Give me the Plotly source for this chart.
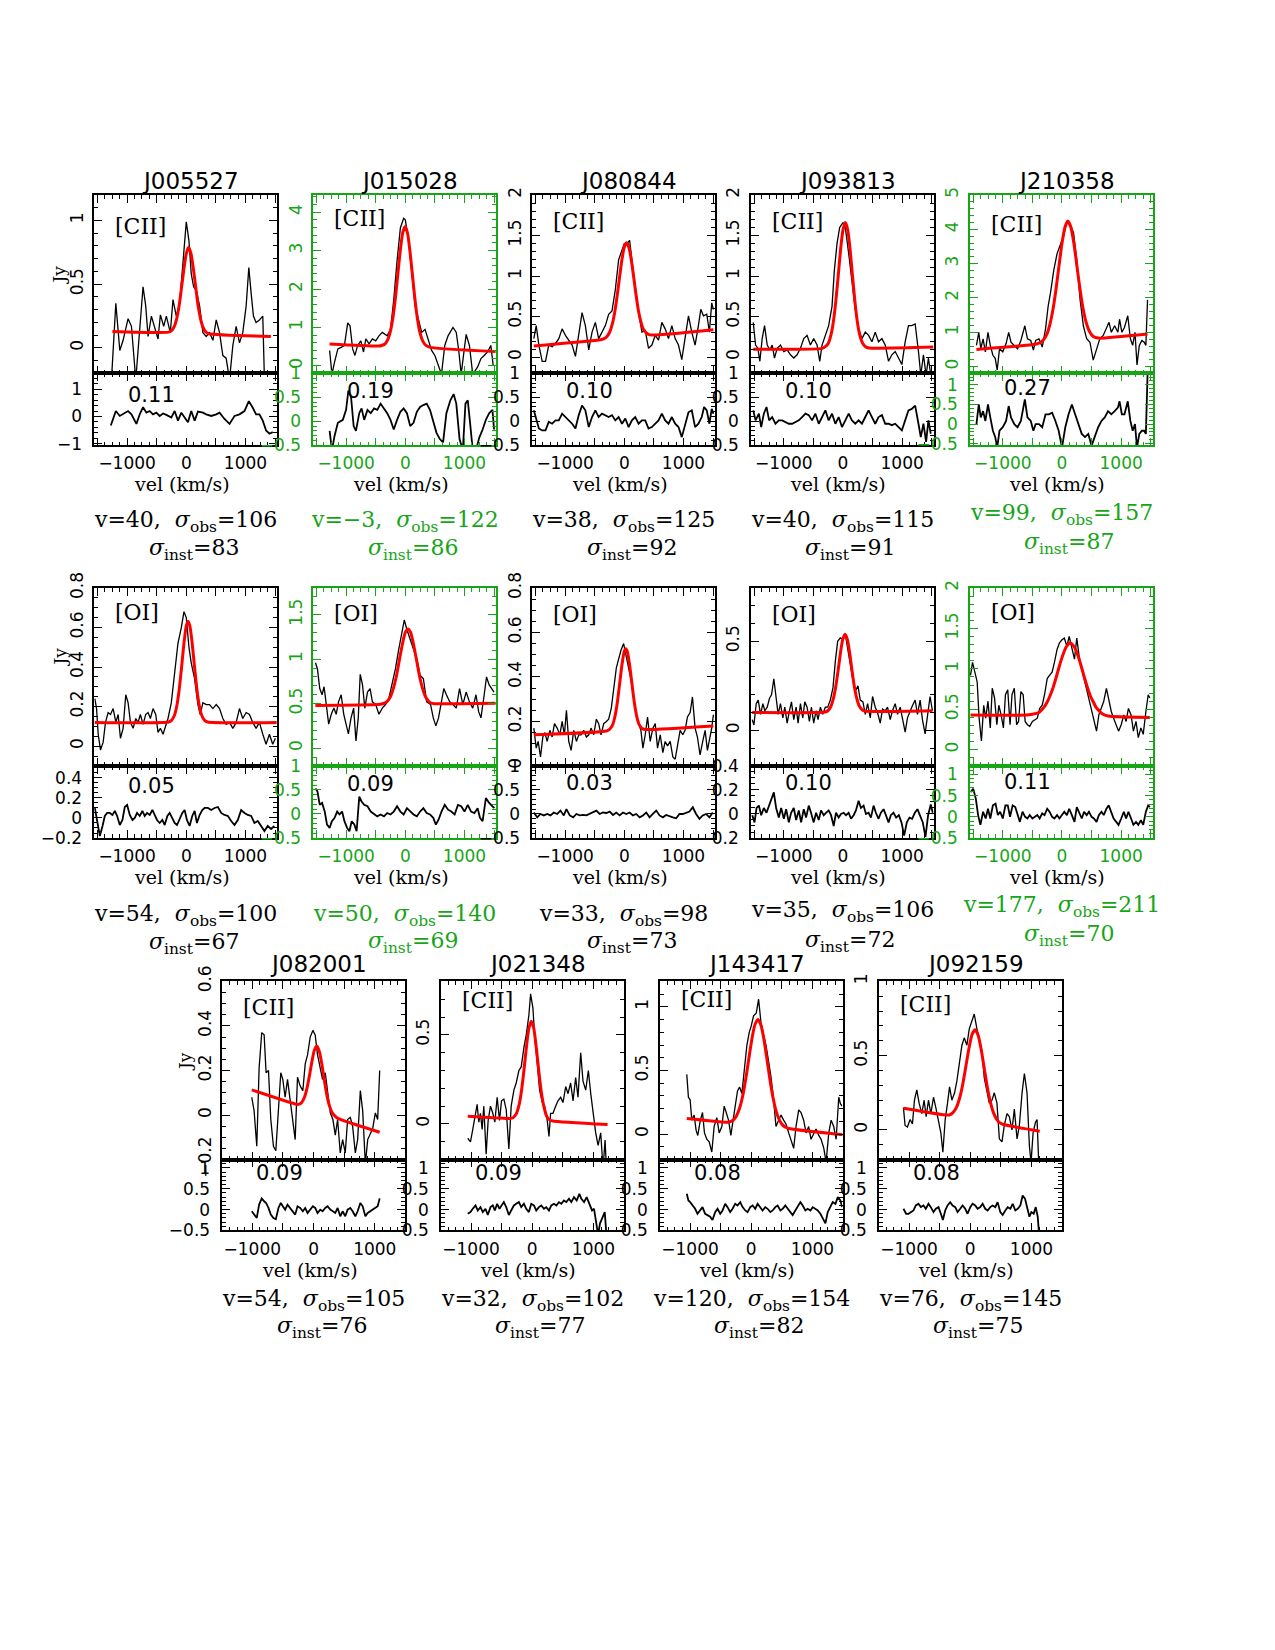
import sys
import plotly.graph_objects as go

# ----------------------------------------------------------------- data
# Panel 1  J005527 [CII]
P1_VEL = [-1265,-1191,-1124,-1068,-984,-927,-854,-787,-731,-686,-646,-590,-534,-478,-438,-382,-337,-270,-225,-169,-112,-56,0,45,84,124,169,225,281,337,393,450,506,562,618,674,731,787,843,899,955,1012,1057,1096,1135,1180,1236,1293,1321,1349]
P1_FLUX = [-0.25,0.35,-0.02,0.06,0.23,0.17,-0.25,0.12,0.48,0.33,0.09,0.25,0.15,0.07,0.26,0.17,0.25,0.12,0.38,0.25,0.35,0.68,0.99,0.84,0.58,0.48,0.45,0.33,0.12,0.09,0.12,0.06,0.22,0.12,-0.06,-0.08,-0.25,0.02,0.17,0.04,0.12,0.33,0.63,0.43,0.25,0.2,0.22,0.25,-0.25,-0.25]
P1_FIT_VEL = [-1250,-300,-250,-200,-160,-120,-80,-40,0,40,80,120,160,200,240,280,330,380,1430]
P1_FIT = [0.13,0.124,0.136,0.172,0.234,0.334,0.475,0.62,0.74,0.79,0.74,0.62,0.475,0.33,0.23,0.165,0.125,0.112,0.09]
P1_RES_VEL = [-1276,-1191,-1124,-1068,-984,-927,-843,-787,-731,-674,-618,-562,-506,-450,-393,-337,-253,-197,-141,-84,-28,28,84,141,197,281,337,422,506,562,646,731,815,899,984,1057,1124,1180,1236,1293,1349,1405,1461]
P1_RES = [-0.33,0.2,0.02,0.08,0.2,0.08,-0.27,0.08,0.34,0.14,0.2,0.08,0.14,0.02,0.11,0.06,-0.04,0.2,-0.15,0.14,-0.04,-0.21,0.2,-0.15,0.18,0.14,0.08,0.02,0.08,0.14,-0.09,-0.27,0.02,0.08,0.2,0.56,0.32,0.08,0.08,-0.15,-0.51,-0.63,-0.57]

# Panel 2  J015028 [CII]
P2_VEL = [-1279,-1240,-1195,-1140,-1084,-1029,-973,-934,-890,-851,-806,-751,-706,-667,-612,-556,-500,-445,-389,-350,-306,-250,-195,-139,-83,-28,0,56,111,167,222,278,334,389,445,500,556,612,667,723,806,862,906,945,984,1029,1084,1140,1223,1279,1334,1390,1446,1485]
P2_FLUX = [0.4,-0.22,0.1,0.44,0.48,0.53,1.12,1.04,0.44,0.27,0.53,0.65,0.36,0.7,0.57,0.7,0.65,0.78,0.87,0.82,0.78,0.95,1.72,2.74,3.59,3.84,3.8,3.25,2.4,1.55,1.21,0.87,0.95,0.7,0.4,0.27,0.02,-0.22,0.53,0.78,1.0,0.87,0.36,-0.22,0.27,0.82,0.53,-0.22,-0.03,0.19,0.27,0.36,0.53,0.02]
P2_FIT_VEL = [-1280,-450,-400,-350,-300,-250,-200,-160,-120,-80,-40,0,40,80,120,160,200,250,300,350,420,1530]
P2_FIT = [0.57,0.515,0.53,0.56,0.67,0.91,1.35,1.87,2.48,3.06,3.49,3.63,3.44,2.97,2.38,1.78,1.28,0.85,0.63,0.53,0.48,0.37]
P2_RES_VEL = [-1279,-1240,-1195,-1140,-1056,-1001,-962,-917,-873,-834,-778,-739,-695,-639,-584,-528,-473,-417,-361,-306,-250,-195,-139,-83,-28,28,83,139,195,250,306,361,417,473,528,584,639,695,762,817,862,917,973,1017,1056,1095,1140,1195,1251,1307,1362,1418,1473,1501]
P2_RES = [-0.2,-0.6,-0.3,-0.03,0.03,0.24,0.64,0.51,-0.1,-0.2,0.17,0.27,0.03,0.24,0.17,0.27,0.24,0.37,0.27,0.17,0.03,-0.17,0.03,0.2,0.27,0.17,-0.1,-0.03,0.2,0.3,0.34,0.37,0.24,-0.03,-0.24,-0.37,-0.44,0.17,0.44,0.57,0.37,-0.37,-0.6,0.37,0.44,-0.03,-0.6,-0.6,-0.34,-0.17,0.03,0.17,0.24,-0.17]

# Panel 3  J080844 [CII]
P3_VEL = [-1529,-1489,-1444,-1388,-1332,-1276,-1220,-1163,-1107,-1051,-995,-939,-882,-826,-770,-714,-658,-601,-545,-489,-433,-377,-320,-264,-208,-152,-96,-39,0,45,90,129,185,242,298,354,410,466,523,579,635,691,747,804,860,916,972,1028,1085,1141,1197,1253,1293,1338,1394,1439,1478,1506]
P3_FLUX = [0.23,0.39,0.15,-0.05,-0.05,0.15,0.13,0.17,0.23,0.35,0.27,0.21,0.15,0.01,0.31,0.55,0.39,0.09,0.31,0.43,0.23,0.31,0.39,0.53,0.57,0.83,1.2,1.32,1.4,1.4,1.44,1.2,0.87,0.55,0.31,0.33,0.11,0.15,0.27,0.21,0.43,0.35,0.23,0.39,0.23,0.15,-0.03,0.23,0.51,0.31,0.15,0.39,0.59,0.51,0.53,0.31,0.67,0.59]
P3_FIT_VEL = [-1530,-400,-350,-300,-250,-200,-160,-120,-80,-40,0,40,80,120,160,200,240,280,320,370,430,1506]
P3_FIT = [0.14,0.216,0.226,0.25,0.305,0.417,0.56,0.76,0.985,1.2,1.36,1.41,1.35,1.19,0.98,0.76,0.57,0.44,0.35,0.30,0.276,0.34]
P3_RES_VEL = [-1529,-1489,-1444,-1388,-1332,-1276,-1220,-1163,-1107,-1051,-995,-939,-882,-826,-770,-714,-658,-601,-545,-489,-433,-377,-320,-264,-208,-152,-96,-39,17,73,129,185,242,298,354,410,466,523,579,635,691,747,804,860,916,972,1028,1085,1141,1197,1253,1309,1349,1394,1439,1478,1506]
P3_RES = [0.23,0.02,-0.15,-0.19,-0.19,-0.01,-0.05,0.02,0.02,0.16,0.09,0.02,-0.05,-0.15,0.13,0.33,0.23,-0.12,0.09,0.23,0.09,0.16,0.13,0.09,0.13,0.02,0.09,-0.05,0.06,-0.12,0.02,0.09,-0.05,0.02,0.02,-0.15,-0.12,-0.05,0.02,0.16,0.02,-0.05,0.09,-0.05,-0.12,-0.33,-0.05,0.19,0.23,-0.12,-0.05,0.09,0.3,0.23,-0.05,0.26,0.16]

# Panel 4  J093813 [CII]
P4_VEL = [-1517,-1478,-1439,-1405,-1366,-1326,-1281,-1236,-1197,-1158,-1113,-1057,-1000,-944,-888,-832,-776,-719,-663,-607,-551,-495,-438,-393,-354,-298,-242,-185,-146,-101,-56,0,39,96,152,208,264,320,377,433,489,545,601,658,714,770,826,882,939,995,1051,1107,1163,1220,1276,1315,1360,1405,1444,1484]
P4_FLUX = [0.43,0.15,0.11,-0.05,0.23,0.39,0.15,0.09,0.15,-0.01,0.11,0.15,0.07,0.09,0.03,-0.01,0.03,0.11,0.23,0.27,0.15,0.23,0.15,-0.05,0.15,0.27,0.39,0.63,1.07,1.4,1.6,1.66,1.6,1.28,0.91,0.59,0.35,0.23,0.31,0.27,0.19,0.31,0.19,0.23,0.15,-0.05,0.03,0.07,-0.01,-0.09,0.19,0.39,0.39,0.41,0.07,-0.22,0.03,-0.22,-0.01,-0.22]
P4_FIT_VEL = [-1517,-350,-300,-250,-200,-160,-120,-80,-40,0,40,80,120,160,200,240,280,330,380,440,1530]
P4_FIT = [0.10,0.11,0.13,0.17,0.285,0.45,0.70,1.01,1.33,1.57,1.66,1.57,1.33,1.01,0.70,0.45,0.285,0.176,0.13,0.115,0.125]
P4_RES_VEL = [-1517,-1478,-1422,-1383,-1338,-1293,-1248,-1197,-1141,-1085,-1028,-972,-916,-860,-804,-747,-691,-635,-579,-523,-466,-410,-354,-298,-242,-185,-129,-73,-17,39,96,152,208,264,320,377,433,489,545,601,658,714,770,826,882,939,995,1051,1107,1163,1220,1276,1315,1360,1405,1444,1484]
P4_RES = [0.23,0.02,0.16,-0.12,0.16,0.3,0.02,0.09,-0.05,0.02,0.02,-0.01,-0.05,-0.05,-0.01,0.02,0.09,0.16,0.13,0.02,0.16,-0.05,0.09,0.23,0.02,0.16,-0.05,0.09,-0.12,0.02,0.16,0.02,-0.05,0.02,-0.05,0.09,0.23,0.09,-0.05,0.09,0.13,-0.05,-0.05,-0.08,-0.05,-0.12,-0.19,0.02,0.23,0.26,0.33,-0.05,-0.33,-0.05,-0.43,0.02,-0.26]

# Panel 5  J210358 [CII]
P5_VEL = [-1446,-1407,-1373,-1334,-1295,-1251,-1212,-1168,-1129,-1095,-1056,-1001,-945,-901,-862,-806,-751,-695,-628,-584,-528,-484,-445,-389,-334,-278,-234,-195,-139,-83,-28,28,83,139,195,250,306,361,417,473,528,584,639,695,751,795,834,890,945,973,1012,1056,1112,1156,1195,1234,1268,1307,1351,1390,1418,1446]
P5_FLUX = [0.62,1.0,0.52,0.81,0.43,1.0,0.62,0.33,0.24,-0.1,0.52,0.43,0.67,1.0,0.71,0.62,0.52,0.76,1.19,0.81,0.76,0.48,0.76,0.81,0.57,1.1,1.76,2.14,2.81,3.29,3.52,3.81,4.24,4.14,3.9,3.1,1.95,1.19,0.81,0.71,0.19,0.52,0.81,0.9,1.1,1.29,1.0,1.19,1.0,1.38,1.0,1.14,1.48,0.81,0.62,1.0,0.05,0.62,0.76,0.71,0.62,1.95]
P5_FIT_VEL = [-1446,-450,-400,-350,-300,-250,-200,-150,-100,-50,0,50,100,150,200,250,300,350,400,450,500,550,620,1446]
P5_FIT = [0.5,0.65,0.68,0.72,0.81,0.97,1.26,1.69,2.27,2.94,3.59,4.06,4.24,4.06,3.6,2.96,2.31,1.75,1.34,1.08,0.93,0.86,0.83,0.95]
P5_RES_VEL = [-1446,-1407,-1373,-1334,-1295,-1251,-1212,-1168,-1129,-1095,-1056,-1001,-945,-901,-862,-806,-751,-695,-628,-584,-528,-484,-445,-389,-334,-278,-222,-167,-111,-56,0,56,111,167,222,278,334,389,445,500,556,612,667,723,778,834,890,945,973,1012,1056,1112,1156,1195,1234,1268,1307,1351,1390,1418,1446]
P5_RES = [0,0.5,0.17,0.33,0.08,0.5,0.17,-0.17,-0.33,-0.6,-0.17,-0.08,0.08,0.46,0.17,0,-0.08,0.08,0.63,0.17,0.08,-0.17,0,0,-0.08,0.25,0.25,0.29,0.08,-0.17,-0.6,-0.08,0.25,0.5,0.25,0,-0.25,-0.33,-0.25,-0.55,-0.33,-0.08,0.08,0.17,0.33,0.25,0.33,0.42,0.58,0.25,0.25,0.58,0.08,-0.17,0,-0.6,-0.25,-0.17,-0.17,-0.25,1.25]

# Panel 6  J005527 [OI]
P6_VEL = [-1546,-1517,-1489,-1450,-1405,-1366,-1321,-1281,-1236,-1191,-1152,-1113,-1068,-1023,-984,-944,-899,-854,-815,-776,-731,-686,-646,-607,-562,-517,-478,-438,-393,-348,-309,-253,-197,-141,-84,-39,0,45,84,141,197,236,281,337,393,450,506,562,618,674,731,787,843,899,955,1012,1068,1124,1180,1236,1293,1349,1405,1461,1506]
P6_FLUX = [0.24,0.19,0.06,-0.02,0.02,0.12,0.17,0.16,0.19,0.12,0.16,0.04,0.09,0.26,0.22,0.12,0.09,0.14,0.12,0.16,0.11,0.16,0.17,0.14,0.19,0.16,0.07,0.09,0.06,0.11,0.14,0.22,0.37,0.52,0.6,0.68,0.65,0.5,0.42,0.34,0.21,0.16,0.22,0.21,0.21,0.19,0.21,0.19,0.14,0.11,0.12,0.09,0.12,0.19,0.14,0.17,0.16,0.12,0.09,0.12,0.06,0.01,0.06,0.01,0.04]
P6_FIT_VEL = [-1550,-300,-250,-200,-160,-120,-80,-40,0,30,60,100,140,180,220,260,310,360,1530]
P6_FIT = [0.12,0.122,0.13,0.156,0.204,0.286,0.398,0.519,0.608,0.63,0.608,0.519,0.398,0.286,0.204,0.156,0.13,0.122,0.12]
P6_RES_VEL = [-1546,-1506,-1461,-1416,-1377,-1338,-1293,-1248,-1208,-1169,-1124,-1079,-1040,-1000,-955,-910,-871,-832,-787,-742,-703,-663,-618,-573,-534,-495,-450,-405,-365,-320,-281,-236,-197,-157,-112,-67,-28,11,56,101,141,180,225,270,309,365,422,478,534,590,646,703,759,815,871,927,984,1040,1096,1152,1208,1265,1321,1377,1433,1489]
P6_RES = [0.1,-0.05,-0.18,-0.08,0.02,0.05,0.05,0.03,0.07,0.02,-0.07,-0.02,0.11,0.13,0.03,-0.02,0,0.05,0.02,0.07,0.02,0.05,0.03,0.08,0.02,-0.02,-0.05,-0.02,-0.07,0.02,0.05,0,-0.05,-0.07,0,0.05,0.08,-0.02,-0.08,0.02,0.07,-0.05,0.03,0.08,0.1,0.1,0.08,0.1,0.11,0.05,0.03,0.02,-0.03,-0.07,-0.02,0.08,0.05,0.03,0.02,-0.05,-0.03,-0.08,-0.13,-0.08,-0.11,-0.08]

# Panel 7  J015028 [OI]
P7_VEL = [-1518,-1485,-1446,-1407,-1373,-1334,-1295,-1251,-1207,-1168,-1129,-1084,-1040,-1001,-962,-917,-873,-834,-795,-762,-723,-684,-639,-595,-556,-500,-445,-389,-334,-278,-222,-167,-111,-56,-17,28,83,139,195,250,306,361,428,473,517,562,612,651,695,751,806,862,917,973,1029,1084,1140,1195,1240,1279,1334,1373,1418,1462,1501]
P7_FLUX = [0.96,0.89,0.67,0.6,0.69,0.49,0.27,0.38,0.45,0.38,0.52,0.6,0.38,0.27,0.16,0.34,0.45,0.08,0.34,0.83,0.71,0.45,0.63,0.67,0.52,0.49,0.38,0.45,0.49,0.56,0.71,0.89,1.11,1.33,1.44,1.33,1.22,1.11,1.0,0.82,0.78,0.52,0.49,0.34,0.25,0.34,0.52,0.67,0.6,0.52,0.49,0.45,0.67,0.49,0.63,0.52,0.45,0.6,0.41,0.34,0.6,0.8,0.71,0.67,0.63]
P7_FIT_VEL = [-1520,-450,-400,-350,-300,-250,-200,-150,-100,-50,0,45,90,140,190,240,290,340,390,440,490,1530]
P7_FIT = [0.48,0.49,0.495,0.505,0.53,0.58,0.675,0.81,0.99,1.165,1.3,1.34,1.3,1.165,0.99,0.81,0.675,0.58,0.53,0.505,0.5,0.505]
P7_RES_VEL = [-1518,-1485,-1446,-1407,-1362,-1323,-1279,-1240,-1195,-1151,-1112,-1068,-1029,-984,-945,-906,-862,-823,-778,-739,-695,-639,-584,-528,-473,-417,-361,-306,-250,-195,-139,-83,-28,28,83,139,195,250,306,361,417,473,517,562,612,667,723,778,834,890,945,1001,1056,1112,1168,1223,1262,1307,1362,1418,1473,1507]
P7_RES = [0.53,0.47,0.19,0.23,0.05,-0.22,-0.29,-0.15,-0.08,0.05,-0.01,0.05,-0.15,-0.29,-0.36,-0.15,-0.22,-0.36,0.36,0.26,0.19,0.16,0.05,-0.01,-0.05,-0.01,-0.05,0.02,-0.01,0.05,0.16,0.05,-0.01,0.12,0.05,-0.01,-0.05,0.05,0.12,0.02,-0.01,-0.08,-0.22,-0.12,0.05,0.19,0.09,0.05,-0.01,0.19,0.16,0.05,0.19,0.05,0.02,0.12,-0.08,-0.15,0.33,0.23,0.16,0.12]

# Panel 8  J080844 [OI]
P8_VEL = [-1529,-1489,-1456,-1416,-1377,-1343,-1304,-1259,-1220,-1180,-1135,-1090,-1051,-1012,-978,-939,-899,-854,-809,-770,-731,-686,-641,-601,-562,-517,-472,-433,-393,-348,-303,-264,-219,-180,-135,-96,-56,-11,28,73,112,157,202,242,281,315,354,393,438,483,523,562,607,652,691,731,776,821,860,899,944,989,1028,1068,1113,1152,1197,1236,1281,1326,1366,1405,1439,1478,1506]
P8_FLUX = [0.17,0.08,0.11,0.04,0.13,0.15,0.11,0.16,0.13,0.19,0.17,0.14,0.2,0.14,0.25,0.11,0.07,0.16,0.11,0.14,0.14,0.16,0.13,0.14,0.17,0.14,0.21,0.19,0.14,0.19,0.2,0.21,0.26,0.35,0.44,0.48,0.52,0.55,0.49,0.44,0.39,0.3,0.23,0.19,0.16,0.08,0.14,0.22,0.11,0.17,0.19,0.08,0.14,0.06,0.11,0.09,0.11,0.04,0.03,0.09,0.16,0.14,0.16,0.22,0.24,0.31,0.17,0.13,0.05,0.11,0.16,0.07,0.11,0.17,0.23]
P8_FIT_VEL = [-1530,-300,-250,-200,-160,-120,-80,-40,0,25,50,90,130,170,210,250,300,350,1506]
P8_FIT = [0.14,0.157,0.164,0.183,0.22,0.281,0.366,0.454,0.515,0.527,0.515,0.454,0.368,0.284,0.223,0.187,0.168,0.164,0.18]
P8_RES_VEL = [-1529,-1472,-1416,-1360,-1304,-1248,-1191,-1135,-1079,-1023,-978,-922,-865,-809,-753,-697,-641,-584,-528,-472,-416,-360,-303,-247,-191,-135,-79,-22,34,90,146,202,259,315,371,427,483,540,596,652,708,764,821,877,933,989,1045,1102,1158,1214,1270,1326,1383,1439,1495]
P8_RES = [0.03,-0.07,0,-0.03,0,-0.03,0.03,0,0.07,-0.03,0.1,-0.03,-0.07,0,-0.03,-0.02,-0.03,0,0.03,0.07,0,0.03,0.02,0.05,-0.02,0.03,-0.03,0.03,0,0.03,-0.03,0,-0.07,-0.03,0.03,-0.07,0,0.07,-0.03,-0.07,-0.02,-0.05,-0.07,-0.09,0,0,0.03,0.05,0.14,0,-0.1,-0.03,0,-0.07,0.03]

# Panel 9  J093813 [OI]
P9_VEL = [-1534,-1506,-1467,-1433,-1394,-1354,-1321,-1281,-1242,-1208,-1169,-1130,-1096,-1057,-1017,-984,-944,-905,-871,-832,-792,-759,-719,-680,-646,-607,-568,-534,-495,-455,-422,-382,-343,-298,-259,-214,-169,-129,-90,-45,0,39,79,124,169,208,253,292,337,377,416,461,500,545,584,629,669,714,753,798,837,882,922,967,1006,1051,1090,1135,1175,1220,1259,1304,1343,1388,1427,1472,1512]
P9_FLUX = [0.06,0.03,0.15,0.17,0.09,0.15,0.11,0.13,0.18,0.2,0.29,0.17,0.09,0.15,0.07,0.13,0.04,0.11,0.16,0.06,0.13,0.04,0.15,0.07,0.16,0.13,0.05,0.13,0.04,0.11,0.06,0.13,0.09,0.13,0.13,0.17,0.24,0.39,0.5,0.52,0.51,0.54,0.46,0.35,0.28,0.22,0.25,0.17,0.16,0.09,0.15,0.07,0.19,0.13,0.1,0.04,0.12,0.11,0.13,0.06,0.11,0.15,0.09,0.13,0.07,-0.01,0.07,0.11,0.14,0.17,0.09,0.17,0.06,-0.02,0.09,0.19,0.11]
P9_FIT_VEL = [-1534,-305,-255,-205,-165,-125,-85,-45,-5,35,75,115,155,195,235,275,325,375,1512]
P9_FIT = [0.1,0.103,0.11,0.134,0.175,0.24,0.33,0.43,0.51,0.54,0.51,0.43,0.33,0.24,0.177,0.137,0.115,0.108,0.11]
P9_RES_VEL = [-1534,-1495,-1461,-1422,-1383,-1338,-1293,-1253,-1214,-1169,-1130,-1085,-1045,-1000,-961,-916,-877,-832,-792,-747,-708,-663,-624,-579,-540,-495,-455,-410,-371,-326,-287,-242,-202,-157,-118,-73,-34,11,51,96,135,180,219,264,303,348,388,433,472,517,556,601,641,686,725,770,809,854,899,944,989,1034,1079,1124,1169,1214,1259,1304,1349,1394,1439,1484,1517]
P9_RES = [-0.01,-0.07,0.05,0.07,-0.01,0.05,0.01,0.07,0.11,0.18,0.05,-0.03,0.05,-0.04,0.04,-0.07,0.01,0.05,-0.05,0.03,-0.07,0.04,-0.03,0.07,0.01,-0.07,0.01,-0.05,0.03,-0.01,0.01,0.03,-0.01,-0.1,0.01,-0.03,0,0.01,-0.01,0.01,-0.04,-0.01,0.03,0.11,0.05,0.07,0,0.01,-0.03,0.07,0.01,-0.04,0.01,0.04,-0.01,-0.07,-0.01,0.01,-0.03,-0.01,-0.07,-0.18,-0.07,-0.03,-0.04,0.01,0.04,-0.01,-0.07,-0.19,-0.01,0.08,0.01]

# Panel 10  J210358 [OI]
P10_VEL = [-1546,-1512,-1473,-1434,-1401,-1362,-1323,-1290,-1251,-1212,-1179,-1140,-1101,-1068,-1029,-990,-956,-917,-878,-845,-806,-767,-734,-695,-656,-623,-584,-545,-500,-456,-417,-378,-334,-295,-250,-211,-167,-128,-83,-44,0,39,83,122,167,211,250,289,334,373,417,456,500,539,584,623,667,706,751,790,834,873,917,956,1001,1045,1084,1123,1168,1207,1251,1290,1334,1373,1418,1457,1485]
P10_FLUX = [0.92,1.08,0.96,0.84,0.39,0.11,0.55,0.39,0.6,0.27,0.76,0.64,0.31,0.55,0.43,0.27,0.68,0.74,0.31,0.68,0.76,0.31,0.35,0.72,0.68,0.35,0.31,0.29,0.35,0.37,0.39,0.51,0.55,0.68,0.88,0.92,0.96,1.08,1.24,1.32,1.36,1.38,1.28,1.4,1.24,1.12,1.38,1.16,1.0,0.88,0.76,0.64,0.47,0.39,0.23,0.43,0.51,0.6,0.76,0.6,0.47,0.39,0.31,0.23,0.31,0.43,0.35,0.51,0.43,0.23,0.35,0.15,0.27,0.19,0.47,0.68,0.64]
P10_FIT_VEL = [-1546,-600,-500,-400,-300,-250,-200,-150,-100,-50,0,70,140,210,280,330,380,430,480,530,580,630,680,780,1485]
P10_FIT = [0.43,0.43,0.44,0.455,0.53,0.59,0.67,0.77,0.89,1.02,1.14,1.27,1.32,1.27,1.14,1.02,0.89,0.77,0.665,0.59,0.52,0.48,0.445,0.418,0.40]
P10_RES_VEL = [-1546,-1501,-1457,-1418,-1379,-1334,-1290,-1251,-1212,-1168,-1123,-1084,-1045,-1001,-956,-917,-878,-834,-790,-751,-712,-667,-623,-584,-545,-500,-456,-417,-378,-334,-295,-250,-211,-167,-128,-83,-44,0,39,83,122,167,211,250,289,334,373,417,456,500,539,584,623,667,706,751,790,834,873,917,956,1001,1045,1084,1123,1168,1207,1251,1290,1334,1373,1418,1457,1485]
P10_RES = [0.58,0.66,0.43,0.04,-0.19,0.12,-0.04,0.19,-0.04,0.27,0.31,0.04,0.12,-0.04,0.27,0.27,0,0.27,0.23,0.04,-0.12,0.12,0,-0.04,0.04,-0.04,0,0.04,-0.04,0.08,0.04,0.19,0.12,0,-0.04,0.04,-0.04,0.04,0.12,0.04,0.19,0.04,-0.12,0.23,0.12,-0.04,0.12,0.04,0.12,0,-0.04,-0.12,0.04,0.12,0.04,0.19,0.27,0.08,-0.04,-0.12,-0.19,-0.04,0.12,-0.04,0.12,-0.04,-0.19,-0.12,-0.19,-0.08,-0.19,0.12,0.27,0.23]

# Panel 11  J082001 [CII]
P11_VEL = [-1009,-971,-927,-889,-846,-807,-775,-736,-698,-655,-616,-573,-535,-502,-464,-425,-382,-344,-300,-262,-218,-175,-136,-98,-55,-11,27,65,109,147,191,229,273,316,355,393,436,475,518,556,600,638,682,720,764,802,846,884,927,966,1009,1047,1080]
P11_FLUX = [0.08,0.02,-0.14,0.21,0.37,0.36,0.19,0.2,-0.02,-0.14,-0.16,0.02,0.19,0.16,0.08,0.16,0.07,-0.02,-0.11,0.17,0.13,0.11,0.23,0.27,0.35,0.38,0.36,0.27,0.21,0.16,0.19,0.11,0.01,-0.02,-0.09,-0.02,-0.17,-0.11,-0.17,-0.02,-0.01,-0.05,-0.17,-0.11,0.11,0.02,-0.22,-0.11,-0.08,-0.06,0.01,-0.02,0.2]
P11_FIT_VEL = [-1009,-300,-250,-195,-145,-105,-65,-25,15,55,95,135,175,215,255,305,355,405,1080]
P11_FIT = [0.113,0.05,0.048,0.056,0.082,0.123,0.18,0.243,0.293,0.31,0.285,0.229,0.158,0.093,0.046,0.01,-0.006,-0.016,-0.077]
P11_RES_VEL = P11_VEL
P11_RES = [-0.04,-0.12,-0.2,0.12,0.27,0.2,0.16,0.04,-0.12,-0.2,-0.23,0.04,0.16,0.08,0,0.12,0.04,-0.04,-0.12,0.08,0.04,-0.04,0.04,-0.08,0,0.08,0.04,-0.08,0,-0.04,0.04,0.08,0,-0.04,-0.08,0.04,-0.16,-0.04,-0.16,0,0.04,-0.04,-0.16,-0.04,0.16,0.08,-0.16,-0.08,-0.04,0,0.04,0.08,0.27]

# Panel 12  J021348 [CII]
P12_VEL = [-1053,-1009,-971,-927,-900,-873,-846,-818,-791,-753,-720,-682,-644,-611,-573,-535,-502,-464,-425,-382,-344,-300,-262,-218,-180,-136,-98,-55,-27,11,38,82,120,164,202,245,273,300,338,382,420,464,502,546,584,627,666,709,747,791,829,873,916,955,993,1036,1075,1118,1156,1189,1211]
P12_FLUX = [-0.08,-0.1,-0.03,0.06,0.11,0.01,0.06,-0.03,0.1,-0.17,0.02,0.1,0.06,0.01,0.15,0.02,0.13,0.14,0.08,-0.14,0.1,0.19,0.23,0.3,0.32,0.43,0.5,0.61,0.73,0.65,0.5,0.34,0.19,0.12,0.1,0.02,-0.07,0.06,0.06,0.1,0.13,0.15,0.12,0.21,0.17,0.23,0.13,0.26,0.15,0.4,0.24,0.19,0.3,0.17,0.06,-0.05,-0.12,-0.05,-0.25,-0.09,-0.25]
P12_FIT_VEL = [-1053,-365,-315,-265,-215,-175,-135,-95,-55,-15,25,65,105,145,185,235,285,335,1230]
P12_FIT = [0.043,0.031,0.035,0.054,0.107,0.188,0.303,0.432,0.537,0.577,0.536,0.431,0.302,0.187,0.106,0.044,0.023,0.017,-0.003]
P12_RES_VEL = [-1053,-1009,-971,-927,-889,-846,-807,-764,-726,-682,-644,-611,-573,-535,-502,-464,-425,-382,-344,-300,-262,-218,-180,-136,-98,-55,-16,27,65,109,147,191,229,273,311,355,393,436,475,518,556,600,638,682,726,769,802,846,889,933,976,1009,1042,1075,1107,1151,1184,1211]
P12_RES = [-0.1,-0.06,0.02,0.1,-0.02,0.06,-0.06,0.02,-0.13,0.06,0.1,-0.02,0.14,0.02,0.1,0.18,0.06,-0.13,-0.02,0.1,0.14,0.18,0.06,0.14,0.02,-0.06,0.14,0.1,-0.02,0.06,0.1,0.02,0.06,-0.02,0.1,0.14,0.1,0.18,0.14,0.22,0.18,0.26,0.18,0.3,0.22,0.38,0.26,0.18,0.3,0.14,-0.02,0.02,-0.25,-0.6,-0.33,-0.17,-0.06,-0.6]

# Panel 13  J143417 [CII]
P13_VEL = [-1053,-1026,-998,-971,-933,-900,-873,-835,-796,-764,-726,-687,-644,-606,-562,-524,-480,-442,-409,-371,-333,-300,-262,-224,-191,-153,-115,-71,-33,0,38,82,120,158,202,240,284,322,365,404,447,486,529,567,611,649,693,731,775,813,856,895,938,976,1020,1058,1102,1140,1184,1222,1266,1304,1347,1386,1429,1456,1484]
P13_FLUX = [0.47,0.29,0.27,0.11,0.15,0.03,-0.01,0.1,0.17,0.01,-0.04,-0.06,-0.14,0.06,0.13,0.01,0.06,0.22,0.17,0.11,-0.01,0.11,0.22,0.34,0.37,0.32,0.52,0.7,0.8,0.85,0.93,0.95,1.06,0.88,0.78,0.7,0.57,0.45,0.27,0.06,0.11,0.15,0.11,0.08,0.01,-0.04,-0.11,0.06,0.19,0.17,0.11,0.01,0.06,-0.04,0.01,0.04,-0.01,-0.04,-0.11,-0.22,0.01,0.11,0.06,-0.04,0.29,0.24,0.22]
P13_FIT_VEL = [-1053,-390,-340,-290,-240,-190,-140,-90,-40,10,60,110,160,210,260,310,360,410,460,510,560,610,1500]
P13_FIT = [0.123,0.094,0.099,0.113,0.145,0.205,0.30,0.434,0.59,0.746,0.86,0.90,0.854,0.736,0.576,0.414,0.276,0.175,0.11,0.073,0.054,0.044,-0.005]
P13_RES_VEL = [-1053,-1026,-998,-955,-916,-878,-835,-796,-753,-715,-671,-633,-589,-551,-507,-469,-425,-387,-344,-305,-262,-224,-180,-142,-98,-60,-16,22,65,104,147,185,229,267,311,349,393,431,475,513,556,595,638,676,720,758,802,840,884,922,966,1004,1047,1086,1129,1167,1211,1249,1293,1331,1375,1413,1456,1484]
P13_RES = [0.38,0.22,0.18,0.1,0.02,-0.1,-0.02,0.06,-0.1,-0.13,-0.17,-0.25,-0.06,0.02,-0.1,-0.02,0.14,0.06,-0.06,0.02,0.14,0.1,0.18,0.06,-0.02,-0.06,0.06,0.1,0.02,0.14,0.06,-0.02,0.06,0.02,-0.06,-0.02,0.06,0.1,-0.02,0.02,0.1,0.02,-0.06,-0.13,-0.02,0.06,0.18,0.1,-0.02,0.02,-0.02,0.06,0.02,-0.02,-0.1,-0.21,-0.33,-0.06,0.06,0.18,0.14,0.3,0.22,0.06]

# Panel 14  J092159 [CII]
P14_VEL = [-1091,-1064,-1026,-982,-944,-911,-873,-835,-791,-753,-720,-682,-644,-600,-562,-518,-480,-447,-409,-371,-338,-300,-256,-218,-180,-136,-98,-55,-16,27,65,109,147,191,229,273,311,355,393,436,475,518,556,600,638,682,720,764,802,846,884,927,966,993,1026,1064,1091,1118]
P14_FLUX = [0.15,0.03,0.02,0.07,0.04,0.2,0.27,0.18,0.11,0.2,0.09,0.2,0.11,0.22,0.15,0.07,-0.02,-0.15,0.07,0.18,0.29,0.2,0.25,0.33,0.46,0.57,0.62,0.57,0.68,0.73,0.78,0.68,0.6,0.53,0.35,0.27,0.18,0.2,0.25,0.18,-0.06,-0.08,0.03,0.11,0.09,0.0,0.14,-0.06,0.03,0.25,0.38,0.25,-0.11,-0.22,-0.02,0.05,0.07,-0.22]
P14_FIT_VEL = [-1091,-370,-320,-270,-220,-170,-120,-70,-20,30,80,130,180,230,280,330,380,430,480,530,1135]
P14_FIT = [0.146,0.10,0.105,0.122,0.157,0.22,0.313,0.432,0.552,0.643,0.674,0.636,0.538,0.411,0.285,0.185,0.115,0.073,0.049,0.038,-0.009]
P14_RES_VEL = [-1091,-1047,-1009,-971,-927,-889,-846,-807,-764,-726,-682,-644,-600,-562,-518,-480,-447,-409,-371,-327,-289,-245,-207,-164,-125,-82,-44,0,38,82,120,164,202,245,284,327,365,409,447,491,529,573,611,655,693,736,775,818,856,895,927,966,998,1036,1069,1102,1124]
P14_RES = [0.02,-0.1,-0.1,-0.06,-0.02,0.1,0.14,0.06,0.1,0.02,0.14,0.06,-0.06,0.02,0.06,-0.1,-0.25,-0.02,0.1,0.18,0.1,0.06,-0.06,0.02,0.1,0.02,-0.1,0.06,0.14,0.1,0.02,0.06,0.14,0.02,-0.02,0.06,0.1,0.06,0.18,-0.06,-0.13,-0.02,0.06,0.02,0.14,-0.02,0.02,0.1,0.34,0.26,0.06,-0.17,-0.06,-0.1,0.06,-0.17,-0.6]

# labels / texts
NAMES = ["J005527","J015028","J080844","J093813","J210358",
         "J005527","J015028","J080844","J093813","J210358",
         "J082001","J021348","J143417","J092159"]
LINES = ["[CII]"]*5 + ["[OI]"]*5 + ["[CII]"]*4
RMS = ["0.11","0.19","0.10","0.10","0.27","0.05","0.09","0.03","0.10","0.11","0.09","0.09","0.08","0.08"]
V_FIT = ["40","\u22123","38","40","99","54","50","33","35","177","54","32","120","76"]
SIG_OBS = ["106","122","125","115","157","100","140","98","106","211","105","102","154","145"]
SIG_INST = ["83","86","92","91","87","67","69","73","72","70","76","77","82","75"]
GREEN_PANEL = [False,True,False,False,True,False,True,False,False,True,False,False,False,False]

DATA = [
    (P1_VEL,P1_FLUX,P1_FIT_VEL,P1_FIT,P1_RES_VEL,P1_RES),
    (P2_VEL,P2_FLUX,P2_FIT_VEL,P2_FIT,P2_RES_VEL,P2_RES),
    (P3_VEL,P3_FLUX,P3_FIT_VEL,P3_FIT,P3_RES_VEL,P3_RES),
    (P4_VEL,P4_FLUX,P4_FIT_VEL,P4_FIT,P4_RES_VEL,P4_RES),
    (P5_VEL,P5_FLUX,P5_FIT_VEL,P5_FIT,P5_RES_VEL,P5_RES),
    (P6_VEL,P6_FLUX,P6_FIT_VEL,P6_FIT,P6_RES_VEL,P6_RES),
    (P7_VEL,P7_FLUX,P7_FIT_VEL,P7_FIT,P7_RES_VEL,P7_RES),
    (P8_VEL,P8_FLUX,P8_FIT_VEL,P8_FIT,P8_RES_VEL,P8_RES),
    (P9_VEL,P9_FLUX,P9_FIT_VEL,P9_FIT,P9_RES_VEL,P9_RES),
    (P10_VEL,P10_FLUX,P10_FIT_VEL,P10_FIT,P10_RES_VEL,P10_RES),
    (P11_VEL,P11_FLUX,P11_FIT_VEL,P11_FIT,P11_RES_VEL,P11_RES),
    (P12_VEL,P12_FLUX,P12_FIT_VEL,P12_FIT,P12_RES_VEL,P12_RES),
    (P13_VEL,P13_FLUX,P13_FIT_VEL,P13_FIT,P13_RES_VEL,P13_RES),
    (P14_VEL,P14_FLUX,P14_FIT_VEL,P14_FIT,P14_RES_VEL,P14_RES),
]

# ----------------------------------------------------------------- layout (pixels)
W, H = 1275, 1650
PW = 182.5
GREEN = "#17a517"
RED = "#ff0000"
SANS = "DejaVu Sans"
SERIF = "DejaVu Serif"

ROW_Y = {1: (182.7, 365.0, 438.3), 2: (584.0, 765.7, 839.3), 3: (985.7, 1167.7, 1240.0)}
LEFTS = [94.3, 313.3, 532.3, 751.0, 970.0, 94.3, 313.3, 532.3, 751.0, 970.0, 222.3, 441.0, 660.0, 879.0]
ROWS = [1]*5 + [2]*5 + [3]*4
XR12 = [-1555, 1530]
XR3 = [-1490, 1490]

MAIN_Y = [
    ([-0.2, 1.2], [0, 0.5, 1], 0.1),
    ([-0.2, 4.45], [0, 1, 2, 3, 4], 0.2),
    ([-0.2, 2.0], [0, 0.5, 1, 1.5, 2], 0.1),
    ([-0.2, 2.0], [0, 0.5, 1, 1.5, 2], 0.1),
    ([-0.2, 5.0], [0, 1, 2, 3, 4, 5], 0.2),
    ([-0.1, 0.8], [0, 0.2, 0.4, 0.6, 0.8], 0.05),
    ([-0.2, 1.8], [0, 0.5, 1, 1.5], 0.1),
    ([0.0, 0.8], [0, 0.2, 0.4, 0.6, 0.8], 0.05),
    ([-0.2, 0.8], [0, 0.5], 0.1),
    ([-0.2, 2.0], [0, 0.5, 1, 1.5, 2], 0.1),
    ([-0.2, 0.6], [-0.2, 0, 0.2, 0.4, 0.6], 0.05),
    ([-0.2, 0.8], [0, 0.5], 0.1),
    ([-0.2, 1.2], [0, 0.5, 1], 0.1),
    ([-0.2, 1.0], [0, 0.5, 1], 0.1),
]
RH = [-0.5, 0, 0.5, 1]
RES_Y = [
    ([-1.05, 1.57], [-1, 0, 1], 0.2),
    ([-0.5, 1.0], RH, 0.1),
    ([-0.5, 1.0], RH, 0.1),
    ([-0.5, 1.0], RH, 0.1),
    ([-0.54, 1.29], RH, 0.1),
    ([-0.2, 0.52], [-0.2, 0, 0.2, 0.4], 0.05),
    ([-0.5, 1.0], RH, 0.1),
    ([-0.5, 1.0], RH, 0.1),
    ([-0.2, 0.4], [-0.2, 0, 0.2, 0.4], 0.05),
    ([-0.5, 1.2], RH, 0.1),
    ([-0.5, 1.2], RH, 0.1),
    ([-0.5, 1.2], RH, 0.1),
    ([-0.5, 1.2], RH, 0.1),
    ([-0.5, 1.2], RH, 0.1),
]
LABEL_DY = [32, 24, 27, 27, 30, 25, 26, 27, 27, 25, 27, 20, 19, 24]
RMS_DY = [22, 18, 18, 18, 15, 20, 18, 17, 17, 16, 14, 14, 14, 14]
STAT_Y1 = [516, 516, 516, 516, 509, 918, 918, 918, 914, 909, 1312, 1312, 1312, 1312]
STAT_Y2 = [545, 545, 545, 545, 539, 947, 946, 946, 945, 939, 1339, 1339, 1339, 1339]
JY_POS = {0: (59, 265), 5: (60, 655), 10: (185, 1068)}

XT = [-1500, -1000, -500, 0, 500, 1000, 1500]
XTT = ["", "\u22121000", "", "0", "", "1000", ""]


def fx(p):
    return p / W


def fy(p):
    return 1 - p / H


fig = go.Figure()
layout = dict(width=W, height=H, margin=dict(l=0, r=0, t=0, b=0),
              paper_bgcolor="white", plot_bgcolor="white", showlegend=False)
ann = []


def add_ann(text, x, y, size, color="black", family=SANS, xanchor="center", yanchor="middle", angle=0):
    ann.append(dict(text=text, x=fx(x), y=fy(y), xref="paper", yref="paper",
                    showarrow=False, xanchor=xanchor, yanchor=yanchor, textangle=angle,
                    font=dict(family=family, size=size, color=color)))


def axis_common(col):
    return dict(showline=True, linecolor=col, linewidth=1.5, mirror="ticks",
                ticks="inside", ticklen=8, tickwidth=1.2, tickcolor=col,
                showgrid=False, zeroline=False, fixedrange=True)


for i in range(14):
    vel, flux, fvel, fit, rvel, res = DATA[i]
    for a, b, nm in ((vel, flux, "spec"), (fvel, fit, "fit"), (rvel, res, "res")):
        if len(a) != len(b):
            print("length mismatch panel", i + 1, nm, len(a), len(b), file=sys.stderr)
    n1 = min(len(vel), len(flux)); n2 = min(len(fvel), len(fit)); n3 = min(len(rvel), len(res))

    left = LEFTS[i]
    right = left + PW
    top, split, bottom = ROW_Y[ROWS[i]]
    col = GREEN if GREEN_PANEL[i] else "black"
    xr = XR3 if ROWS[i] == 3 else XR12
    km = 2 * i + 1
    kr = 2 * i + 2

    # main panel axes
    xa = axis_common(col)
    xa.update(domain=[fx(left), fx(right)], range=xr, anchor=f"y{km}",
              tickmode="array", tickvals=XT, showticklabels=False,
              minor=dict(tickmode="linear", tick0=0, dtick=125, ticklen=4, tickcolor=col,
                         tickwidth=1, ticks="inside", showgrid=False))
    yr, yt, ymin = MAIN_Y[i]
    ya = axis_common(col)
    ya.update(domain=[fy(split), fy(top)], range=yr, anchor=f"x{km}",
              tickmode="array", tickvals=yt, tickangle=-90, ticklabelstandoff=3,
              tickfont=dict(family=SANS, size=17, color=col),
              minor=dict(tickmode="linear", tick0=0, dtick=ymin, ticklen=4, tickcolor=col,
                         tickwidth=1, ticks="inside", showgrid=False))
    layout[f"xaxis{km}"] = xa
    layout[f"yaxis{km}"] = ya

    # residual axes
    xb = axis_common(col)
    xb.update(domain=[fx(left), fx(right)], range=xr, anchor=f"y{kr}",
              tickmode="array", tickvals=XT, ticktext=XTT, showticklabels=True,
              ticklabelstandoff=2, tickfont=dict(family=SANS, size=17, color=col),
              minor=dict(tickmode="linear", tick0=0, dtick=125, ticklen=4, tickcolor=col,
                         tickwidth=1, ticks="inside", showgrid=False))
    ryr, ryt, rmin = RES_Y[i]
    yb = axis_common(col)
    yb.update(domain=[fy(bottom), fy(split)], range=ryr, anchor=f"x{kr}",
              tickmode="array", tickvals=ryt, tickangle=0, ticklabelstandoff=7,
              tickfont=dict(family=SANS, size=17, color=col),
              minor=dict(tickmode="linear", tick0=0, dtick=rmin, ticklen=4, tickcolor=col,
                         tickwidth=1, ticks="inside", showgrid=False))
    layout[f"xaxis{kr}"] = xb
    layout[f"yaxis{kr}"] = yb

    # traces
    fig.add_trace(go.Scatter(x=vel[:n1], y=flux[:n1], mode="lines",
                             line=dict(color="black", width=1.3),
                             xaxis=f"x{km}", yaxis=f"y{km}", hoverinfo="skip"))
    fig.add_trace(go.Scatter(x=fvel[:n2], y=fit[:n2], mode="lines",
                             line=dict(color=RED, width=3, shape="spline", smoothing=0.6),
                             xaxis=f"x{km}", yaxis=f"y{km}", hoverinfo="skip"))
    fig.add_trace(go.Scatter(x=rvel[:n3], y=res[:n3], mode="lines",
                             line=dict(color="black", width=1.8),
                             xaxis=f"x{kr}", yaxis=f"y{kr}", hoverinfo="skip"))

    cx = left + PW / 2
    # title (rows 1 and 3)
    if ROWS[i] == 1:
        add_ann(NAMES[i], cx + 5, 168, 23)
    elif ROWS[i] == 3:
        add_ann(NAMES[i], cx + 5, 968, 23)
    # line label
    add_ann(LINES[i], left + 19, top + LABEL_DY[i], 22, family=SERIF, xanchor="left")
    # rms label
    add_ann(RMS[i], left + 32, split + RMS_DY[i], 21, xanchor="left")
    # x label
    add_ann("vel (km/s)", cx - 4, bottom + 40, 19, family=SERIF)
    # fit stats
    add_ann(f"v={V_FIT[i]},  <i>\u03c3</i><sub>obs</sub>={SIG_OBS[i]}", cx, STAT_Y1[i], 22,
            color=col, family=SERIF)
    add_ann(f"<i>\u03c3</i><sub>inst</sub>={SIG_INST[i]}", cx + 8, STAT_Y2[i], 22,
            color=col, family=SERIF)
    if i in JY_POS:
        jx, jy = JY_POS[i]
        add_ann("Jy", jx, jy, 17, family=SERIF, angle=-90)

layout["annotations"] = ann
fig.update_layout(**layout)
fig.write_html("out.html")
